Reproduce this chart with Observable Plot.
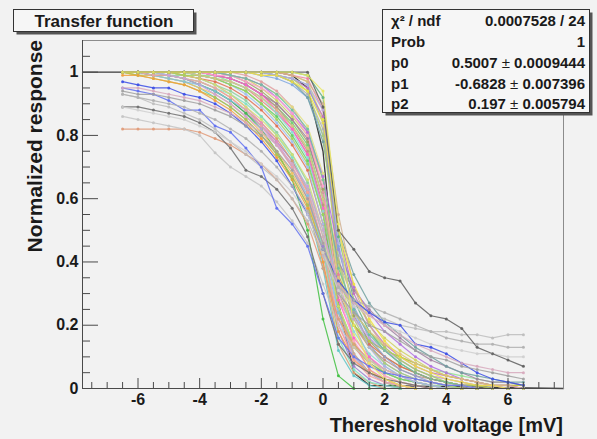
<!DOCTYPE html>
<html><head><meta charset="utf-8">
<script src="https://cdn.jsdelivr.net/npm/d3@7"></script>
<script src="https://cdn.jsdelivr.net/npm/@observablehq/plot@0.6"></script>
<style>
html,body{margin:0;padding:0;background:#f2f2f2;}
#chart{width:597px;height:439px;}
</style></head><body><div id="chart"></div>
<script>
// x grid of every graph (mV)
const xs = [-6.5,-6,-5.5,-5,-4.5,-4,-3.5,-3,-2.5,-2,-1.5,-1,-0.5,0,0.5,1,1.5,2,2.5,3,3.5,4,4.5,5,5.5,6,6.5];

// fitted function, drawn across the full axis range
const fitX = [-7.8,-1.5,-1,-0.5,0,0.25,0.5,1,1.5,7.8];
const fitY = [1,1,0.99,0.95,0.75,0.5,0.27,0.05,0.01,0];

// late, steep channels
const b01 = [1,1,1,1,1,1,1,1,1,1,1,0.99,0.97,0.85,0.40,0.15,0.06,0.02,0.01,0,0,0,0,0,0,0,0];
const b09 = [1,1,1,1,1,1,1,1,1,0.99,0.98,0.96,0.92,0.80,0.45,0.25,0.14,0.08,0.05,0.03,0.02,0.01,0,0,0,0,0];
const b14 = [1,1,1,1,1,1,1,1,1,1,0.99,0.98,0.95,0.86,0.50,0.30,0.20,0.14,0.10,0.07,0.05,0.04,0.03,0.02,0.01,0.01,0];
const b15 = [1,1,1,1,1,1,1,1,1,1,1,1,0.99,0.92,0.48,0.28,0.18,0.12,0.08,0.05,0.03,0.02,0.01,0.01,0,0,0];
const b19 = [1,1,1,1,1,1,1,1,1,0.99,0.99,0.97,0.93,0.82,0.42,0.20,0.10,0.05,0.03,0.02,0.01,0,0,0,0,0,0];
const b20 = [1,1,1,1,1,1,1,1,1,1,1,0.99,0.98,0.88,0.36,0.14,0.06,0.03,0.01,0,0,0,0,0,0,0,0];
const b24 = [1,1,1,1,1,1,1,1,1,1,0.99,0.97,0.92,0.78,0.50,0.36,0.27,0.21,0.17,0.13,0.10,0.07,0.05,0.04,0.03,0.02,0.02];
const b26 = [1,1,1,1,1,1,1,1,1,1,0.99,0.98,0.94,0.80,0.40,0.22,0.13,0.08,0.05,0.03,0.02,0.01,0,0,0,0,0];
const b29 = [1,1,1,1,1,1,1,1,1,1,1,0.99,0.97,0.90,0.55,0.32,0.20,0.13,0.09,0.06,0.04,0.03,0.02,0.01,0.01,0,0];
const b35 = [1,1,1,1,1,1,1,1,1,1,0.99,0.98,0.96,0.84,0.44,0.26,0.16,0.10,0.06,0.04,0.02,0.01,0.01,0,0,0,0];
const b44 = [1,1,1,1,1,1,1,1,1,1,0.99,0.98,0.96,0.88,0.46,0.24,0.13,0.07,0.04,0.02,0.01,0,0,0,0,0,0];
const b45 = [1,1,1,1,1,1,1,1,1,0.99,0.99,0.97,0.94,0.84,0.50,0.33,0.22,0.15,0.10,0.07,0.05,0.03,0.02,0.01,0.01,0,0];

// medium channels
const b02 = [1,1,1,1,1,1,0.99,0.98,0.96,0.93,0.89,0.84,0.77,0.60,0.26,0.11,0.05,0.02,0,0,0,0,0,0,0,0,0];
const b03 = [1,1,1,1,1,0.99,0.98,0.97,0.95,0.91,0.87,0.82,0.74,0.56,0.24,0.10,0.05,0.02,0.01,0,0,0,0,0,0,0,0];
const b10 = [1,1,1,1,1,1,1,0.99,0.97,0.94,0.90,0.85,0.78,0.63,0.36,0.23,0.15,0.10,0.07,0.05,0.03,0.02,0.01,0.01,0,0,0];
const b11 = [1,1,1,1,1,1,0.99,0.98,0.96,0.93,0.89,0.83,0.75,0.58,0.32,0.20,0.13,0.09,0.06,0.04,0.03,0.02,0.01,0,0,0,0];
const b16 = [1,1,1,1,1,1,1,0.99,0.98,0.95,0.91,0.86,0.80,0.66,0.40,0.28,0.21,0.16,0.12,0.09,0.06,0.04,0.03,0.02,0.01,0.01,0.01];
const b21 = [1,1,1,1,1,0.99,0.99,0.97,0.95,0.92,0.88,0.83,0.76,0.60,0.32,0.20,0.15,0.12,0.10,0.08,0.06,0.05,0.04,0.03,0.02,0.02,0.01];
const b22 = [1,1,1,1,1,1,0.99,0.98,0.96,0.93,0.90,0.85,0.79,0.62,0.40,0.31,0.25,0.20,0.16,0.12,0.09,0.07,0.05,0.03,0.02,0.02,0.01];
const b25 = [1,1,1,1,1,1,1,1,0.99,0.97,0.94,0.89,0.81,0.62,0.26,0.11,0.05,0.02,0.01,0,0,0,0,0,0,0,0];
const b27 = [1,1,1,1,1,1,0.99,0.98,0.96,0.93,0.88,0.82,0.74,0.57,0.28,0.16,0.10,0.06,0.04,0.02,0.01,0,0,0,0,0,0];
const b31 = [1,1,1,1,1,1,1,0.99,0.98,0.96,0.93,0.89,0.83,0.68,0.34,0.17,0.09,0.05,0.03,0.02,0.01,0,0,0,0,0,0];
const b32 = [1,1,1,1,1,1,1,0.99,0.98,0.96,0.92,0.87,0.81,0.67,0.44,0.32,0.24,0.18,0.14,0.10,0.07,0.05,0.03,0.02,0.01,0.01,0];
const b33 = [1,1,1,1,1,0.99,0.98,0.96,0.94,0.90,0.86,0.80,0.72,0.55,0.26,0.14,0.08,0.05,0.03,0.02,0.01,0,0,0,0,0,0];
const b41 = [1,1,1,1,1,1,0.99,0.99,0.97,0.95,0.92,0.87,0.80,0.64,0.30,0.15,0.08,0.04,0.02,0.01,0,0,0,0,0,0,0];
const b42 = [1,1,1,1,1,1,1,0.99,0.98,0.96,0.93,0.88,0.82,0.66,0.38,0.25,0.17,0.12,0.08,0.05,0.03,0.02,0.01,0,0,0,0];
const b43 = [1,1,1,1,1,0.99,0.98,0.97,0.95,0.92,0.88,0.83,0.76,0.60,0.35,0.24,0.18,0.14,0.11,0.08,0.06,0.04,0.03,0.02,0.01,0.01,0];

// early-sagging channels
const b04 = [1,1,0.99,0.99,0.98,0.96,0.94,0.91,0.87,0.83,0.78,0.72,0.63,0.45,0.18,0.07,0.03,0.01,0,0,0,0,0,0,0,0,0];
const b05 = [1,0.99,0.99,0.98,0.97,0.95,0.92,0.89,0.85,0.80,0.74,0.67,0.58,0.38,0.12,0.04,0.01,0,0,0,0,0,0,0,0,0,0];
const b06 = [1,1,1,0.99,0.98,0.97,0.95,0.92,0.88,0.84,0.79,0.72,0.62,0.40,0.14,0.05,0.02,0,0,0,0,0,0,0,0,0,0];
const b07 = [1,1,0.99,0.99,0.98,0.96,0.94,0.91,0.87,0.82,0.75,0.66,0.50,0.22,0.04,0,0,0,0,0,0,0,0,0,0,0,0];
const b08 = [1,1,1,1,0.99,0.98,0.96,0.93,0.89,0.84,0.78,0.70,0.60,0.42,0.20,0.10,0.05,0.02,0.01,0,0,0,0,0,0,0,0];
const b12 = [1,1,1,0.99,0.99,0.98,0.96,0.94,0.91,0.86,0.81,0.74,0.65,0.48,0.24,0.13,0.08,0.05,0.03,0.02,0.01,0.01,0,0,0,0,0];
const b13 = [1,0.99,0.99,0.98,0.97,0.95,0.93,0.90,0.86,0.81,0.75,0.68,0.59,0.43,0.22,0.13,0.08,0.05,0.03,0.02,0.01,0,0,0,0,0,0];
const b17 = [1,1,1,1,0.99,0.98,0.97,0.95,0.92,0.88,0.83,0.77,0.69,0.52,0.30,0.20,0.14,0.10,0.07,0.05,0.03,0.02,0.01,0.01,0,0,0];
const b18 = [1,1,0.99,0.98,0.97,0.96,0.94,0.91,0.88,0.83,0.77,0.70,0.61,0.44,0.24,0.14,0.08,0.05,0.03,0.02,0.01,0,0,0,0,0,0];
const b23 = [1,0.99,0.98,0.97,0.96,0.94,0.92,0.89,0.85,0.80,0.74,0.67,0.58,0.44,0.28,0.20,0.15,0.12,0.10,0.08,0.06,0.04,0.03,0.02,0.01,0.01,0.01];
const b28 = [1,1,1,1,1,0.99,0.98,0.96,0.93,0.89,0.84,0.78,0.70,0.52,0.22,0.10,0.05,0.02,0.01,0,0,0,0,0,0,0,0];
const b30 = [1,1,1,0.99,0.98,0.97,0.95,0.93,0.90,0.86,0.80,0.73,0.63,0.44,0.16,0.06,0.02,0.01,0,0,0,0,0,0,0,0,0];
const b34 = [0.99,0.99,0.98,0.97,0.96,0.94,0.91,0.88,0.84,0.79,0.73,0.66,0.57,0.40,0.18,0.09,0.05,0.03,0.01,0,0,0,0,0,0,0,0];
const b36 = [1,1,1,1,0.99,0.98,0.96,0.93,0.89,0.85,0.80,0.74,0.66,0.50,0.26,0.14,0.08,0.04,0.02,0.01,0,0,0,0,0,0,0];
const b37 = [1,1,0.99,0.99,0.98,0.97,0.95,0.92,0.88,0.83,0.77,0.70,0.62,0.46,0.20,0.09,0.04,0.02,0.01,0,0,0,0,0,0,0,0];
const b38 = [1,1,1,1,1,0.99,0.98,0.97,0.95,0.92,0.87,0.81,0.73,0.56,0.30,0.18,0.11,0.07,0.04,0.02,0.01,0,0,0,0,0,0];
const b39 = [1,1,1,0.99,0.98,0.96,0.93,0.90,0.86,0.82,0.77,0.71,0.64,0.50,0.32,0.22,0.16,0.12,0.09,0.06,0.04,0.03,0.02,0.01,0.01,0,0];
const b40 = [1,1,1,1,0.99,0.99,0.98,0.96,0.94,0.90,0.85,0.79,0.71,0.55,0.34,0.24,0.18,0.13,0.09,0.06,0.04,0.02,0.01,0.01,0,0,0];

// slow channels starting below 1 / long tails
const c01 = [0.82,0.82,0.82,0.82,0.82,0.81,0.79,0.77,0.74,0.71,0.66,0.60,0.52,0.38,0.22,0.14,0.09,0.06,0.04,0.03,0.02,0.01,0.01,0,0,0,0];
const c02 = [0.86,0.85,0.84,0.83,0.82,0.80,0.745,0.70,0.67,0.64,0.59,0.53,0.46,0.33,0.20,0.13,0.09,0.06,0.04,0.03,0.02,0.01,0.01,0,0,0,0];
const c03 = [0.89,0.89,0.88,0.87,0.86,0.84,0.81,0.76,0.69,0.67,0.63,0.57,0.48,0.30,0.14,0.08,0.05,0.03,0.02,0.01,0,0,0,0,0,0,0];
const c04 = [0.93,0.92,0.90,0.89,0.87,0.85,0.82,0.78,0.74,0.70,0.66,0.60,0.53,0.42,0.32,0.27,0.24,0.22,0.20,0.19,0.18,0.18,0.17,0.17,0.16,0.17,0.17];
const c05 = [0.97,0.96,0.95,0.95,0.93,0.92,0.90,0.87,0.83,0.78,0.72,0.64,0.55,0.44,0.34,0.28,0.24,0.21,0.20,0.14,0.13,0.11,0.08,0.05,0.03,0.02,0.01];
const c06 = [0.95,0.94,0.93,0.91,0.88,0.88,0.83,0.81,0.76,0.70,0.57,0.52,0.45,0.30,0.16,0.10,0.07,0.05,0.04,0.03,0.02,0.01,0.01,0,0,0,0];
const c07 = [0.94,0.93,0.93,0.92,0.91,0.90,0.88,0.86,0.83,0.80,0.75,0.69,0.60,0.46,0.30,0.24,0.20,0.18,0.15,0.12,0.10,0.09,0.07,0.06,0.05,0.04,0.03];
const c08 = [0.93,0.92,0.91,0.90,0.89,0.87,0.85,0.82,0.79,0.75,0.70,0.64,0.56,0.44,0.32,0.28,0.26,0.24,0.22,0.20,0.18,0.16,0.15,0.14,0.14,0.13,0.13];
const c09 = [0.89,0.88,0.87,0.86,0.85,0.83,0.81,0.78,0.75,0.71,0.67,0.62,0.55,0.43,0.31,0.26,0.23,0.20,0.18,0.16,0.14,0.13,0.12,0.11,0.11,0.10,0.10];
const c10 = [0.95,0.95,0.94,0.93,0.92,0.91,0.89,0.87,0.84,0.81,0.77,0.71,0.63,0.48,0.33,0.27,0.23,0.20,0.17,0.14,0.12,0.10,0.08,0.07,0.06,0.05,0.05];

// right envelope channels
const a01 = [1,1,1,1,1,1,1,1,1,1,1,1,1,0.89,0.50,0.44,0.37,0.35,0.34,0.27,0.23,0.22,0.19,0.13,0.11,0.09,0.07];
const a02 = [1,1,1,1,1,1,1,1,1,1,1,1,0.99,0.94,0.52,0.20,0.08,0.03,0.01,0,0,0,0,0,0,0,0];

const seriesValues = [b01,b02,b03,b04,b05,b06,b07,b08,b09,b10,b11,b12,b13,b14,b15,b16,b17,b18,b19,b20,
  b21,b22,b23,b24,b25,b26,b27,b28,b29,b30,b31,b32,b33,b34,b35,b36,b37,b38,b39,b40,b41,b42,b43,b44,b45,
  c01,c02,c03,c04,c05,c06,c07,c08,c09,c10,a01,a02];
const seriesNames = ["b01","b02","b03","b04","b05","b06","b07","b08","b09","b10","b11","b12","b13","b14","b15","b16","b17","b18","b19","b20",
  "b21","b22","b23","b24","b25","b26","b27","b28","b29","b30","b31","b32","b33","b34","b35","b36","b37","b38","b39","b40","b41","b42","b43","b44","b45",
  "c01","c02","c03","c04","c05","c06","c07","c08","c09","c10","a01","a02"];
const seriesColors = ["#e6e64a","#6fcf6f","#e77f7f","#9a7fd0","#5fc6c6","#d8a070","#40c040","#e88fc0","#7fa7e0","#a0a060",
  "#c09080","#8fd0a0","#f0c060","#c070c0","#60b080","#d0d060","#e07050","#80c0e0","#b0b0b0","#f080a0",
  "#90e090","#a080a0","#c0c040","#70a0a0","#e0a0a0","#b0d070","#ff60d0","#a0c0f0","#d0b090","#80e0c0",
  "#e0e080","#b070e0","#60d060","#f0a040","#90a0d0",
  "#d0e070","#f7a1a1","#8dd8d8","#c8a0e0","#a0d060","#ff9fcf","#70c0a0","#e0c080","#b0b0e0","#f0e040",
  "#e09a78","#c4c4c4","#6e6e6e","#bdbdbd","#3b4ee6","#6070f0","#a0a0a0","#b0b0b0","#cfcfcf","#d7a9bd",
  "#5e5e5e","#e8e860"];

// axis ticks and labels
const yMajor = [0,0.2,0.4,0.6,0.8,1];
const yMinor = [0.05,0.1,0.15,0.25,0.3,0.35,0.45,0.5,0.55,0.65,0.7,0.75,0.85,0.9,0.95,1.05];
const xMajor = [-6,-4,-2,0,2,4,6];
const xMinor = [-7.5,-7,-6.5,-5.5,-5,-4.5,-3.5,-3,-2.5,-1.5,-1,-0.5,0.5,1,1.5,2.5,3,3.5,4.5,5,5.5,6.5,7,7.5];

const titleText = "Transfer function";
const xTitle = "Thereshold voltage [mV]";
const yTitle = "Normalized response";
const statLabels = ["χ² / ndf","Prob","p0","p1","p2"];
const statValues = [["0.0007528 / 24"],["1"],["0.5007","0.0009444"],["-0.6828","0.007396"],["0.197","0.005794"]];

if (seriesValues.length !== seriesNames.length || seriesNames.length !== seriesColors.length) throw new Error("series count mismatch");
seriesValues.forEach((v,i)=>{ if (v.length !== xs.length) throw new Error("bad length " + seriesNames[i] + " " + v.length); });

const rows = [];
seriesValues.forEach((vals, i) => vals.forEach((y, j) => rows.push({series: seriesNames[i], x: xs[j], y})));
const fitRows = fitX.map((x, i) => ({x, y: fitY[i]}));

const W = 597, H = 439, mL = 82, mR = 34, mT = 40, mB = 51;
const fw = W - mL - mR, fh = H - mT - mB;
const font = "'Liberation Sans', Arial, Helvetica, sans-serif";
const axisColor = "#4a4a4a";

const svg = Plot.plot({
  width: W, height: H,
  marginLeft: mL, marginRight: mR, marginTop: mT, marginBottom: mB,
  style: {background: "#f2f2f2", fontFamily: font, overflow: "visible"},
  x: {domain: [-7.8, 7.8]},
  y: {domain: [0, 1.1]},
  color: {domain: seriesNames, range: seriesColors},
  marks: [
    Plot.line(fitRows, {x: "x", y: "y", stroke: "#3a3a3a", strokeWidth: 1.3}),
    Plot.line(rows, {x: "x", y: "y", z: "series", stroke: "series", strokeWidth: 1.2, strokeOpacity: 0.85}),
    Plot.dot(rows, {x: "x", y: "y", fill: "series", r: 1.5, fillOpacity: 0.9}),
    Plot.frame({stroke: "#8c8c8c"}),
    Plot.ruleX([-7.8], {stroke: axisColor}),
    Plot.ruleY([0], {stroke: axisColor}),
    Plot.tickY(yMajor, {y: d => d, insetRight: fw - 16, stroke: axisColor}),
    Plot.tickY(yMinor, {y: d => d, insetRight: fw - 8, stroke: axisColor}),
    Plot.tickX(xMajor, {x: d => d, insetTop: fh - 10, stroke: axisColor}),
    Plot.tickX(xMinor, {x: d => d, insetTop: fh - 6, stroke: axisColor}),
    Plot.axisY({ticks: yMajor, tickSize: 0, tickPadding: 4, tickFormat: d => String(d), fontSize: 16, fontWeight: "bold", fill: "#1a1a1a", label: null}),
    Plot.axisX({ticks: xMajor, tickSize: 0, tickPadding: 5, tickFormat: d => String(d), fontSize: 16, fontWeight: "bold", fill: "#1a1a1a", label: null})
  ]
});

const s = d3.select(svg);
// axis titles
s.append("text").attr("x", 563).attr("y", 432).attr("text-anchor", "end")
  .attr("font-family", font).attr("font-size", 20).attr("font-weight", "bold").attr("fill", "#1a1a1a").text(xTitle);
s.append("text").attr("transform", "translate(42,40) rotate(-90)").attr("text-anchor", "end")
  .attr("font-family", font).attr("font-size", 21).attr("font-weight", "bold").attr("fill", "#1a1a1a").text(yTitle);

function pave(x, y, w, h) {
  s.append("rect").attr("x", x + 3).attr("y", y + 3).attr("width", w).attr("height", h).attr("fill", "#555");
  s.append("rect").attr("x", x).attr("y", y).attr("width", w).attr("height", h).attr("fill", "#f6f6f6").attr("stroke", "#333").attr("stroke-width", 1);
}
// title box
pave(13.5, 9.5, 180, 22);
s.append("text").attr("x", 104).attr("y", 27).attr("text-anchor", "middle")
  .attr("font-family", font).attr("font-size", 17).attr("font-weight", "bold").attr("fill", "#1a1a1a").text(titleText);

// stats box
pave(382.5, 9.5, 207, 103);
const baselines = [26, 47, 68, 89, 109];
statLabels.forEach((lab, i) => {
  s.append("text").attr("x", 391).attr("y", baselines[i]).attr("text-anchor", "start").attr("font-family", font).attr("font-size", 15)
    .attr("font-weight", "bold").attr("fill", "#1a1a1a").text(lab);
  const t = s.append("text").attr("x", 585).attr("y", baselines[i]).attr("text-anchor", "end")
    .attr("font-family", font).attr("font-size", 15).attr("font-weight", "bold").attr("fill", "#1a1a1a");
  const v = statValues[i];
  if (v.length === 1) t.text(v[0]);
  else {
    t.append("tspan").text(v[0] + " ");
    t.append("tspan").attr("font-weight", "normal").text("±");
    t.append("tspan").text(" " + v[1]);
  }
});

document.getElementById("chart").appendChild(svg);
</script>
</body></html>
